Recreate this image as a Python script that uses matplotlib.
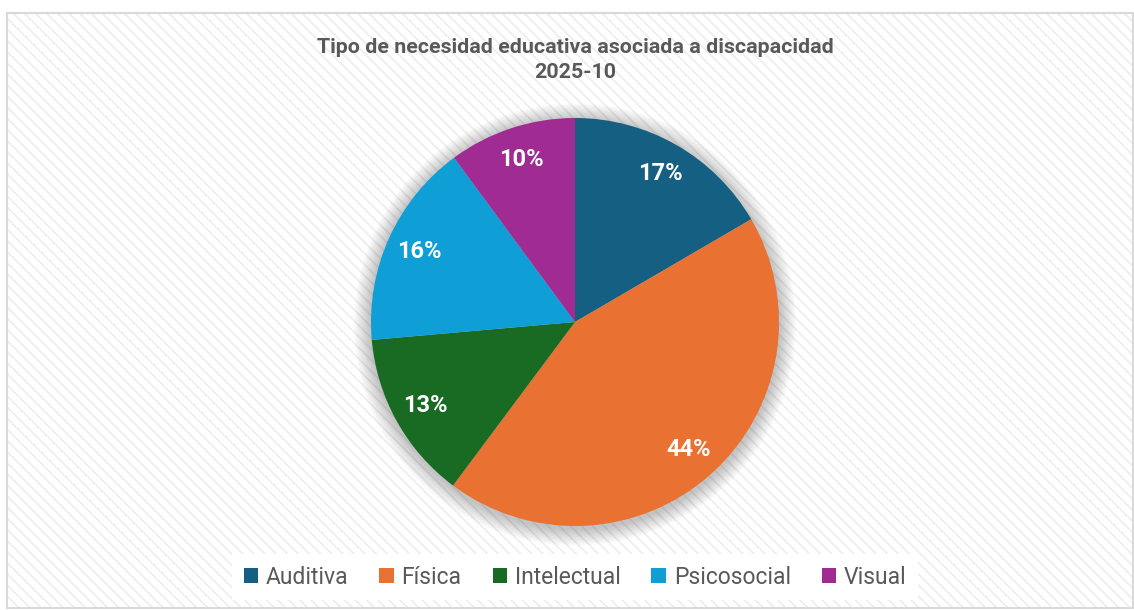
import matplotlib.pyplot as plt
from matplotlib.patches import Patch, Rectangle, Circle

plt.rcParams['font.family'] = ['Roboto', 'DejaVu Sans']
plt.rcParams['hatch.linewidth'] = 1.3

categorias = ['Auditiva', 'Física', 'Intelectual', 'Psicosocial', 'Visual']
porcentajes = [16.6, 43.6, 13.4, 16.3, 10.1]
colores = ['#156082', '#E97132', '#196B24', '#0F9ED5', '#A02B93']
titulo = 'Tipo de necesidad educativa asociada a discapacidad\n2025-10'

W, H = 1134, 610
fig = plt.figure(figsize=(W / 100, H / 100), dpi=100)
fig.patch.set_facecolor('white')

# fondo rayado con borde gris
rayas = Rectangle((7 / W, 2 / H), (W - 8) / W, (H - 15) / H, transform=fig.transFigure,
                  facecolor='white', edgecolor='#EEEEEE', linewidth=0, hatch='\\\\\\',
                  zorder=-2)
borde = Rectangle((7 / W, 2 / H), (W - 8) / W, (H - 15) / H, transform=fig.transFigure,
                  facecolor='none', edgecolor='#D9D9D9', linewidth=1.5, zorder=-1)
fig.patches.extend([rayas, borde])

cx, cy, r = 575, 322, 204
ax = fig.add_axes([(cx - r) / W, (H - cy - r) / H, 2 * r / W, 2 * r / H])
ax.set_aspect('equal')
ax.axis('off')

# sombra suave alrededor del pie
for i in range(12):
    ax.add_patch(Circle((0.0, -0.012), 1.0 + 0.007 * (i + 1), color='black',
                        alpha=0.02, lw=0, zorder=0, clip_on=False))

wedges, textos, autotextos = ax.pie(
    porcentajes, colors=colores, startangle=90, counterclock=False,
    autopct='%1.0f%%', pctdistance=0.84, radius=1.0,
    wedgeprops={'linewidth': 0},
    textprops={'color': 'white', 'fontsize': 17, 'fontweight': 'bold'})
for w in wedges:
    w.set_zorder(2)
    w.set_clip_on(False)
for t in autotextos:
    t.set_zorder(3)
ax.set_xlim(-1.0, 1.0)
ax.set_ylim(-1.0, 1.0)

fig.text(cx / W, 1 - 60 / H, titulo, ha='center', va='center', fontsize=15.4,
         fontweight='bold', color='#595959', linespacing=1.35)

handles = [Patch(facecolor=c, edgecolor='none') for c in colores]
leg = fig.legend(handles, categorias, loc='center', bbox_to_anchor=(cx / W, 1 - 577 / H),
                 ncol=5, frameon=True, handlelength=0.62, handleheight=0.62,
                 handletextpad=0.35, columnspacing=1.35, borderpad=0.5, fancybox=False,
                 prop={'family': ['Roboto', 'DejaVu Sans'], 'size': 16.5})
leg.get_frame().set_facecolor('white')
leg.get_frame().set_edgecolor('none')
leg.get_frame().set_alpha(1)
for t in leg.get_texts():
    t.set_color('#595959')

fig.savefig('out.png', dpi=100)
